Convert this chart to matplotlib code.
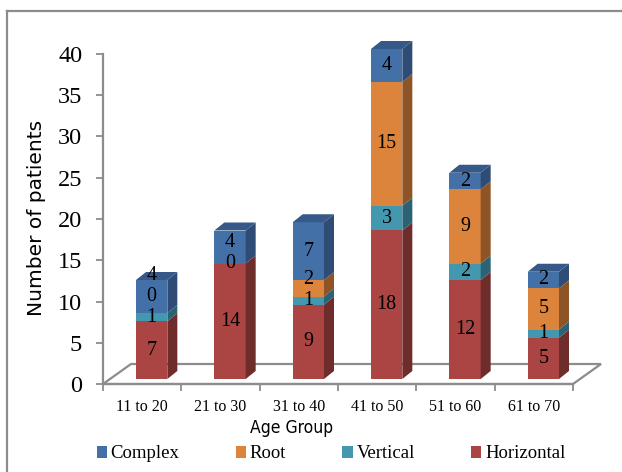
import matplotlib
matplotlib.use("Agg")
import matplotlib.pyplot as plt
from matplotlib.patches import Polygon, Patch
from matplotlib.lines import Line2D
import numpy as np

# patient counts per age group, stacked bottom-up
age_groups = ["11 to 20", "21 to 30", "31 to 40", "41 to 50", "51 to 60", "61 to 70"]
horizontal = [7, 14, 9, 18, 12, 5]
vertical = [1, 0, 1, 3, 2, 1]
root = [0, 0, 2, 15, 9, 5]
complex_ = [4, 4, 7, 4, 2, 2]
y_ticks = [0, 5, 10, 15, 20, 25, 30, 35, 40]

# name, values, front face, side face, top face
series = [
    ("Horizontal", horizontal, "#aa4543", "#6e2c2b", "#8a3836"),
    ("Vertical", vertical, "#4398b0", "#2a6474", "#347d90"),
    ("Root", root, "#dc843c", "#8e5426", "#b86d30"),
    ("Complex", complex_, "#4470a8", "#2e4c75", "#36598a"),
]
legend_order = ["Complex", "Root", "Vertical", "Horizontal"]

serif = "Liberation Serif"
grey = "#8c8c8c"

W, H = 622, 472
fig = plt.figure(figsize=(W / 100, H / 100), dpi=100)
ax = fig.add_axes([103 / W, (H - 384) / H, 470 / W, 330 / H])
ax.set_xlim(-0.5, 5.5)
ax.set_ylim(0, 40)

# pixel -> data unit helpers for the fake 3d offsets
ux = 470 / 6
uy = 330 / 40
off_x = 9.5 / ux
base = 5 / uy
dx = 10 / ux
dy = 8 / uy
width = 0.4

# floor of the 3d box
fdx, fdy = 28 / ux, 20 / uy
floor = Polygon([(-0.5, 0), (-0.5 + fdx, fdy), (5.5 + fdx, fdy), (5.5, 0)],
                closed=True, facecolor="white", edgecolor=grey, lw=1.6,
                clip_on=False, zorder=0.5)
ax.add_patch(floor)

x = np.arange(len(age_groups)) + off_x
bottoms = np.zeros(len(age_groups)) + base
for name, vals, front, side, top in series:
    vals = np.array(vals, dtype=float)
    ax.bar(x, vals, width, bottom=bottoms, color=front, zorder=2, clip_on=False)
    for i in range(len(x)):
        if vals[i] == 0:
            continue
        xr = x[i] + width / 2
        b, t = bottoms[i], bottoms[i] + vals[i]
        ax.add_patch(Polygon([(xr, b), (xr + dx, b + dy), (xr + dx, t + dy), (xr, t)],
                             closed=True, facecolor=side, edgecolor="none",
                             zorder=2, clip_on=False))
    bottoms = bottoms + vals

# top caps use the colour of the uppermost segment
top_color = series[-1][4]
for i in range(len(x)):
    xl, xr, t = x[i] - width / 2, x[i] + width / 2, bottoms[i]
    ax.add_patch(Polygon([(xl, t), (xl + dx, t + dy), (xr + dx, t + dy), (xr, t)],
                         closed=True, facecolor=top_color, edgecolor="none",
                         zorder=2, clip_on=False))

# value labels, pushed up when they would collide
for i in range(len(x)):
    level = 0.0
    last_y = -10.0
    zero_at = None
    for name, vals, *_ in series:
        v = vals[i]
        if v == 0 and zero_at == level:
            continue
        y = max(level + v / 2, last_y + 2.5)
        if v == 0:
            zero_at = level
        ax.text(x[i], base + y, str(v), ha="center", va="center",
                fontsize=14.5, family=serif, color="black", zorder=5)
        last_y = y
        level += v

# axes styling
for s in ["top", "right"]:
    ax.spines[s].set_visible(False)
for s in ["left", "bottom"]:
    ax.spines[s].set_color(grey)
    ax.spines[s].set_linewidth(1.6)
    ax.spines[s].set_zorder(3)

ax.set_yticks(y_ticks)
ax.set_yticklabels([str(t) for t in y_ticks], family=serif)
ax.tick_params(axis="y", length=5, width=1.3, color=grey, labelsize=17.5, pad=10)

ax.set_xticks(np.arange(-0.5, 6, 1))
ax.set_xticklabels([])
ax.set_xticks(np.arange(len(age_groups)), minor=True)
ax.set_xticklabels(age_groups, minor=True, family=serif)
ax.tick_params(axis="x", which="major", length=5, width=1.3, color=grey)
ax.tick_params(axis="x", which="minor", length=0, labelsize=11.5, pad=11)

fig.text(292 / W, (H - 428) / H, "Age Group", ha="center", va="center",
         fontsize=12.5, fontstretch="condensed",
         family=["Liberation Sans Narrow", "DejaVu Sans"])
fig.text(37 / W, (H - 218) / H, "Number of patients", ha="center", va="center",
         rotation=90, fontsize=14.5, family="DejaVu Sans")

colors = {name: front for name, _, front, _, _ in series}
handles = [Patch(facecolor=colors[n], edgecolor="none", label=n) for n in legend_order]
fig.legend(handles=handles, loc="center", bbox_to_anchor=(331 / W, (H - 454) / H),
           ncol=4, frameon=False, prop={"family": serif, "size": 13.5},
           handlelength=0.55, handleheight=0.55, handletextpad=0.2,
           columnspacing=3.0)

# outer frame
fig.add_artist(Line2D([7 / W, 7 / W], [0, (H - 11) / H], color=grey, lw=1.6,
                      transform=fig.transFigure))
fig.add_artist(Line2D([7 / W, 1], [(H - 11) / H, (H - 11) / H], color=grey, lw=1.6,
                      transform=fig.transFigure))

fig.savefig("out.png", dpi=100)
